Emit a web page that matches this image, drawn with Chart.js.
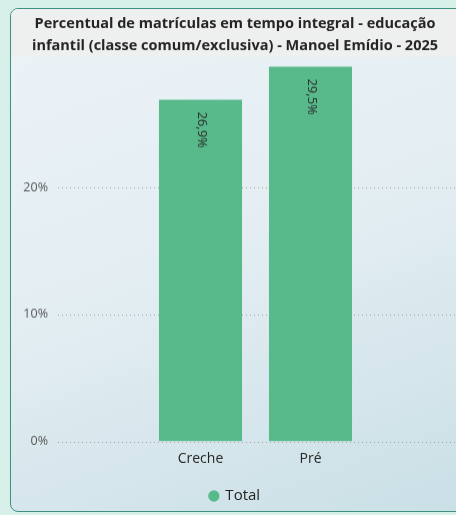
<!DOCTYPE html>
<html>
<head>
<meta charset="utf-8">
<script src="https://cdn.jsdelivr.net/npm/chart.js@4.4.0/dist/chart.umd.min.js"></script>
<style>
  html, body { margin: 0; padding: 0; }
  body {
    width: 456px; height: 515px; overflow: hidden; position: relative;
    background: #d6efe9;
    font-family: "Open Sans", sans-serif;
  }
  .panel {
    position: absolute; left: 10px; top: 8px; width: 470px; height: 502px;
    border: 1.5px solid #3f8f7e; border-radius: 8px;
    background: linear-gradient(160deg, #edf3f7 0%, #e2edf2 50%, #c9dfe6 100%);
    overflow: hidden;
  }
  .band {
    position: absolute; left: 0; top: 0; right: 0; height: 48px;
    background: #eef0ef;
  }
  #wrap { position: absolute; left: 0; top: 0; width: 456px; height: 512.5px; }
</style>
</head>
<body>
<div class="panel"><div class="band"></div></div>
<div id="wrap"><canvas id="chart"></canvas></div>
<script>
// chart data
const categories = ['Creche', 'Pré'];
const totalValues = [26.9, 29.5];
const yTicks = [0, 10, 20];
const titleLines = [
  'Percentual de matrículas em tempo integral - educação',
  'infantil (classe comum/exclusiva) - Manoel Emídio - 2025'
];

const barColor = '#58b98b';
const textColor = '#252423';
const fontFamily = '"Open Sans", sans-serif';

// dotted gridlines that run past the plot area, like the original
const dottedGrid = {
  id: 'dottedGrid',
  beforeDatasetsDraw(chart) {
    const { ctx } = chart;
    const y = chart.scales.y;
    ctx.save();
    ctx.strokeStyle = '#a0a0a0';
    ctx.lineWidth = 1;
    ctx.setLineDash([1, 3]);
    y.ticks.forEach(t => {
      const py = Math.round(y.getPixelForValue(t.value)) + 0.5;
      ctx.beginPath();
      ctx.moveTo(58, py);
      ctx.lineTo(chart.width, py);
      ctx.stroke();
    });
    ctx.restore();
  }
};

// rotated value labels inside the top of each bar
const barLabels = {
  id: 'barLabels',
  afterDatasetsDraw(chart) {
    const { ctx } = chart;
    const meta = chart.getDatasetMeta(0);
    ctx.save();
    ctx.fillStyle = '#2b2b2b';
    ctx.font = '13px ' + fontFamily;
    ctx.textBaseline = 'middle';
    ctx.textAlign = 'left';
    meta.data.forEach((bar, i) => {
      const txt = totalValues[i].toFixed(1).replace('.', ',') + '%';
      ctx.save();
      ctx.translate(bar.x + 1, bar.y + 12);
      ctx.rotate(Math.PI / 2);
      ctx.fillText(txt, 0, 0);
      ctx.restore();
    });
    ctx.restore();
  }
};

new Chart(document.getElementById('chart'), {
  type: 'bar',
  data: {
    labels: categories,
    datasets: [{
      label: 'Total',
      data: totalValues,
      backgroundColor: barColor,
      borderWidth: 0,
      categoryPercentage: 1,
      barPercentage: 0.755
    }]
  },
  options: {
    responsive: true,
    maintainAspectRatio: false,
    animation: false,
    layout: { padding: { left: 14, right: 0, top: 0, bottom: 0 } },
    plugins: {
      title: {
        display: true,
        text: titleLines,
        color: textColor,
        font: { family: fontFamily, size: 14.5, weight: 'bold', lineHeight: 1.52 },
        padding: { top: 12.5, bottom: 3.5 }
      },
      legend: {
        position: 'bottom',
        labels: {
          usePointStyle: true,
          pointStyle: 'circle',
          boxWidth: 8,
          boxHeight: 8,
          color: textColor,
          font: { family: fontFamily, size: 15 },
          padding: 12
        }
      },
      tooltip: { enabled: false }
    },
    scales: {
      x: {
        grid: { display: false, drawTicks: false },
        border: { display: false },
        ticks: {
          color: textColor,
          font: { family: fontFamily, size: 14 },
          padding: 9,
          maxRotation: 0
        }
      },
      y: {
        min: 0,
        max: 30,
        afterBuildTicks(scale) {
          scale.ticks = yTicks.map(v => ({ value: v }));
        },
        afterFit(scale) { scale.width = 131.5; },
        grid: { display: true, color: 'transparent', drawOnChartArea: false, drawTicks: true, tickLength: 93.5 },
        border: { display: false },
        ticks: {
          color: '#555555',
          font: { family: fontFamily, size: 12.5 },
          padding: 4,
          callback: v => v + '%'
        }
      },
      yRight: {
        position: 'right',
        display: true,
        min: 0,
        max: 30,
        afterFit(scale) { scale.width = 90.5; },
        grid: { display: false, drawTicks: false },
        border: { display: false },
        ticks: { display: false }
      }
    }
  },
  plugins: [dottedGrid, barLabels]
});
</script>
</body>
</html>
